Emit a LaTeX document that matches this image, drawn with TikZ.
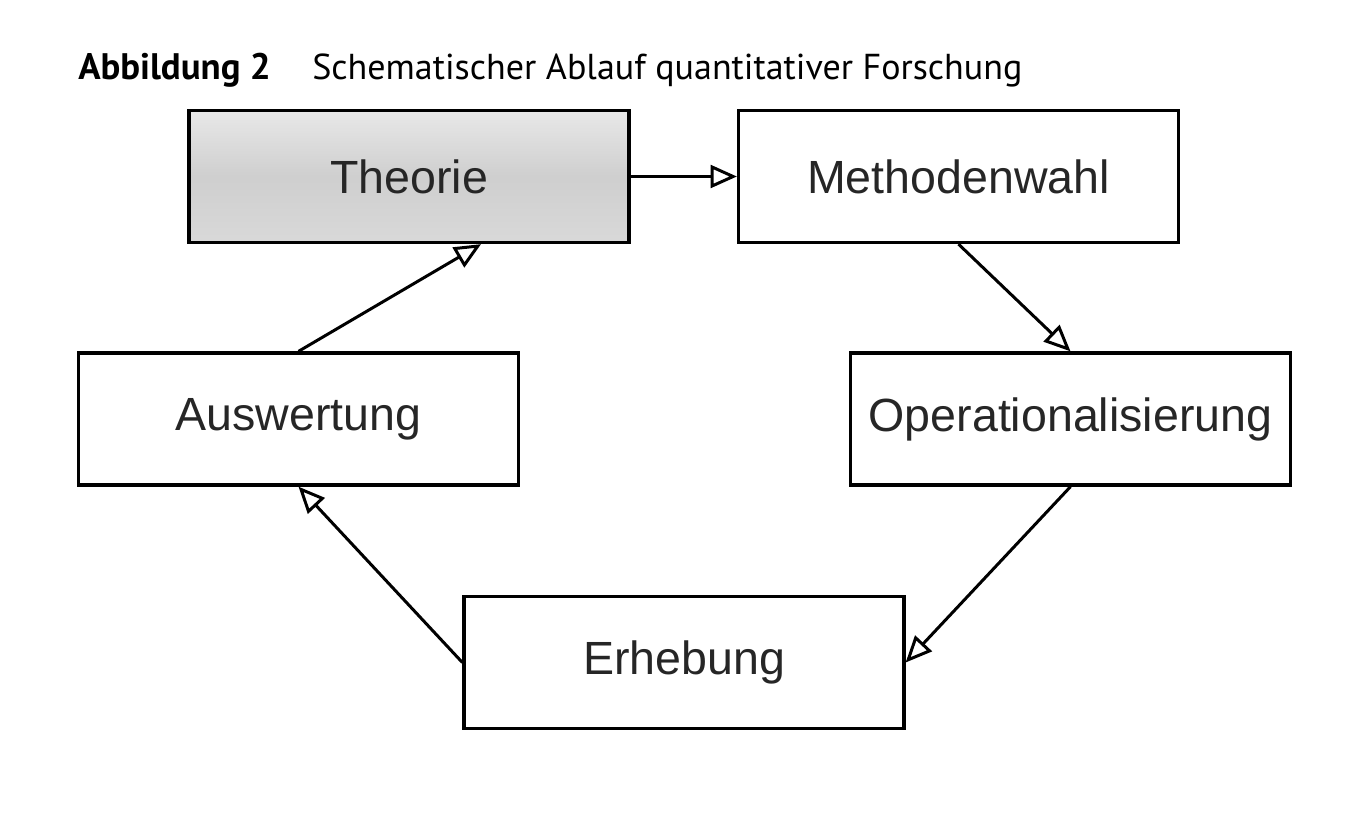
\documentclass[tikz,border=0pt]{standalone}
\usepackage{fontspec}
\setmainfont{Liberation Sans}
\newfontfamily\titlefont{PT Sans}
\usetikzlibrary{arrows.meta,positioning,calc}

\begin{document}
\begin{tikzpicture}[
        x=0.02cm, y=0.02cm,
        stage/.style={draw=black, line width=1.9pt, minimum width=8.8cm,
            minimum height=2.64cm, inner sep=0pt, text=black!85,
            font=\fontsize{26.5}{30}\selectfont},
        start/.style={stage, top color=gray!18, bottom color=gray!30,
            middle color=gray!38},
        flow/.style={-{Triangle[open, length=15pt, width=13pt, line width=1.7pt]},
            line width=1.7pt},
    ]
        \useasboundingbox (0,0) rectangle (1354,833);

        % Title
        \node[anchor=base west, inner sep=0pt, font=\titlefont\fontsize{21}{24}\selectfont\bfseries]
            (fig) at (78,753) {Abbildung 2};
        \node[anchor=base west, inner sep=0pt, font=\titlefont\fontsize{20.5}{24}\selectfont]
            (caption) at (312,753) {Schematischer Ablauf quantitativer Forschung};

        % Stages
        \node[start] (theorie) at (409,656.5) {Theorie};
        \node[stage] (methode) at (958.5,656.5) {Methodenwahl};
        \node[stage] (operat) at (1070.5,414) {Operationalisierung};
        \node[stage] (erhebung) at (684,170.5) {Erhebung};
        \node[stage] (auswert) at (298.5,414) {Auswertung};

        % Cycle
        \draw[flow] (theorie) -- (methode);
        \draw[flow] (methode.south) -- (operat.north);
        \draw[flow] (operat.south) -- (erhebung.east);
        \draw[flow] (erhebung.west) -- (auswert.south);
        \draw[flow] (auswert.north) -- ([xshift=41]theorie.south);
    \end{tikzpicture}
\end{document}
